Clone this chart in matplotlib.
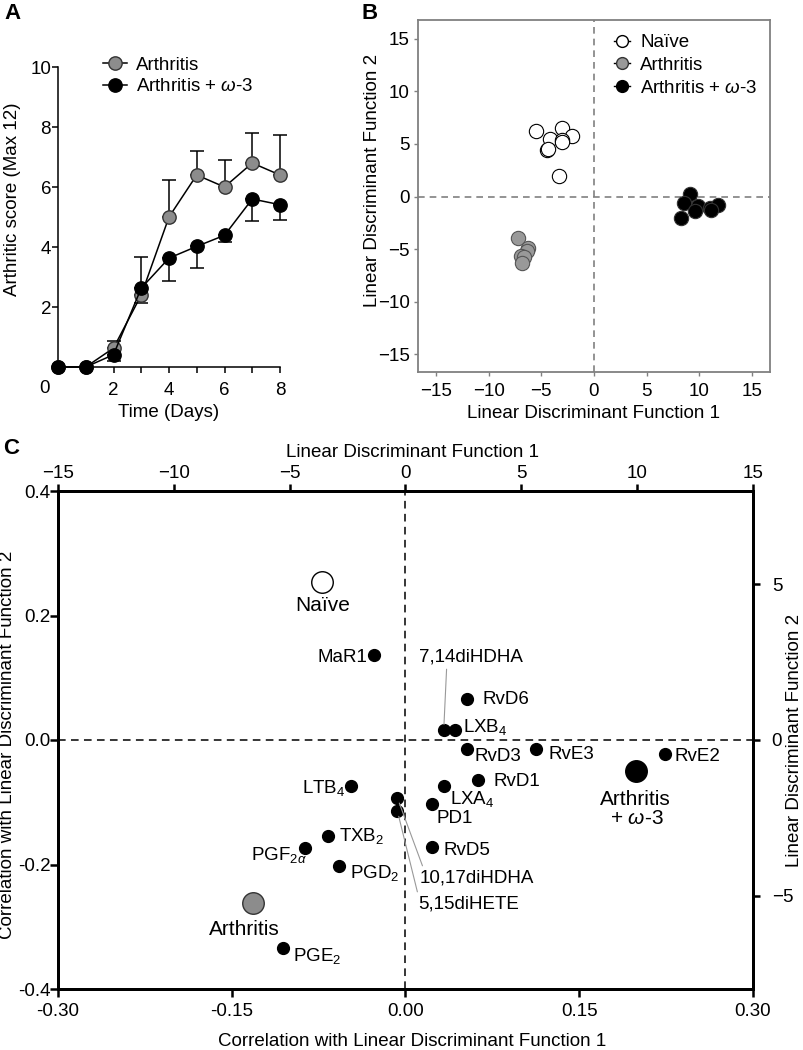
# Arthritis scores + LDA of lipid mediators (panels A, B, C)
import numpy as np
import matplotlib.pyplot as plt
from matplotlib.lines import Line2D

plt.rcParams['font.family'] = ['Liberation Sans', 'DejaVu Sans']
plt.rcParams['mathtext.fontset'] = 'custom'
plt.rcParams['mathtext.rm'] = 'Liberation Sans'
plt.rcParams['mathtext.it'] = 'Liberation Sans:italic'
plt.rcParams['font.size'] = 13.5

# --- A: arthritic score over time ---
days = [0, 1, 2, 3, 4, 5, 6, 7, 8]
arth_mean = [0, 0, 0.63, 2.4, 5.0, 6.4, 6.0, 6.8, 6.4]
arth_sem = [0, 0, 0.23, 1.28, 1.24, 0.8, 0.89, 1.0, 1.32]
omega_mean = [0, 0, 0.41, 2.63, 3.63, 4.02, 4.39, 5.6, 5.41]
omega_sem = [0, 0, 0.22, 0.5, 0.77, 0.72, 0.23, 0.72, 0.52]

# --- B: LDA scores per animal ---
naive_ld1 = [-5.5, -3.0, -2.05, -4.15, -3.0, -3.0, -4.45, -4.35, -3.35]
naive_ld2 = [6.2, 6.5, 5.8, 5.5, 5.4, 5.15, 4.4, 4.5, 2.0]
arth_ld1 = [-7.2, -6.3, -6.4, -6.9, -6.6, -6.8]
arth_ld2 = [-3.9, -4.9, -5.2, -5.7, -5.8, -6.3]
omega_ld1 = [9.1, 8.55, 9.9, 8.3, 9.6, 11.0, 11.8, 11.1]
omega_ld2 = [0.25, -0.6, -0.9, -2.0, -1.4, -1.05, -0.85, -1.3]

# --- C: mediator correlations with LD1 / LD2 ---
mediators = ['MaR1', '7,14diHDHA', 'LXB$_4$', 'RvD6', 'RvD3', 'RvE3', 'RvE2',
             'RvD1', 'LXA$_4$', 'PD1', 'RvD5', '10,17diHDHA', '5,15diHETE',
             'LTB$_4$', 'TXB$_2$', r'PGF$_{2\alpha}$', 'PGD$_2$', 'PGE$_2$']
corr_ld1 = [-0.027, 0.033, 0.043, 0.053, 0.053, 0.113, 0.224, 0.063, 0.033,
            0.023, 0.023, -0.007, -0.007, -0.047, -0.067, -0.087, -0.057, -0.106]
corr_ld2 = [0.137, 0.016, 0.016, 0.066, -0.015, -0.015, -0.022, -0.064, -0.074,
            -0.103, -0.172, -0.093, -0.114, -0.074, -0.154, -0.173, -0.202, -0.334]
groups = ['Naïve', 'Arthritis', 'Arthritis']
group_x = [-0.072, -0.132, 0.199]
group_y = [0.254, -0.262, -0.050]

# label offsets (pixels from dot, to text baseline), alignment, leader line
lab_dx = [-7, -25, 8, 16, 8, 12, 10, 15, 6, 4, 11, 22, 21, -6, 11, 2, 11, 10]
lab_dy = [-7, 69, -2, -5, -12, -10, -7, -6, -18, -19, -8, -85, -98, -7, -5, -12, -12, -13]
lab_ha = ['right', 'left', 'left', 'left', 'left', 'left', 'left', 'left', 'left',
          'left', 'left', 'left', 'left', 'right', 'left', 'right', 'left', 'left']
lab_lead = {1: (0.27, 0), 11: (0.04, 1), 12: (0.0, 1)}

W, H = 804, 1050
DPI = 100
fig = plt.figure(figsize=(W / DPI, H / DPI), dpi=DPI)


def rect(l, t, r, b):
    return [l / W, 1 - b / H, (r - l) / W, (b - t) / H]


pt = 72 / DPI  # pixels -> points
grey = '#8c8c8c'

# ================= A =================
axA = fig.add_axes(rect(58, 67, 280, 367))
zeros = [0] * len(days)
axA.errorbar(days, arth_mean, yerr=[zeros, arth_sem], fmt='none', ecolor='k',
             elinewidth=1.1, capsize=4.7, capthick=1.1, zorder=2, clip_on=False)
axA.errorbar(days, omega_mean, yerr=[omega_sem, zeros], fmt='none', ecolor='k',
             elinewidth=1.1, capsize=4.7, capthick=1.1, zorder=2, clip_on=False)
axA.plot(days, arth_mean, '-o', color='k', mfc=grey, mec='#333333', ms=9.6,
         lw=1.1, mew=1, clip_on=False, zorder=3)
axA.plot(days, omega_mean, '-o', color='k', mfc='k', mec='k', ms=9.6,
         lw=1.1, clip_on=False, zorder=4)
axA.set_xlim(0, 8)
axA.set_ylim(0, 10)
for s in ['top', 'right']:
    axA.spines[s].set_visible(False)
for s in ['left', 'bottom']:
    axA.spines[s].set_linewidth(1.1)
axA.set_xticks([2, 4, 6, 8])
axA.set_xticks([1, 3, 5, 7], minor=True)
axA.set_yticks([2, 4, 6, 8, 10])
axA.tick_params(which='both', direction='out', length=4, width=1.1)
axA.tick_params(axis='x', pad=7)
axA.tick_params(axis='y', pad=1)
axA.text(-0.059, -0.072, '0', transform=axA.transAxes, ha='center', va='center')
axA.set_xlabel('Time (Days)')
axA.xaxis.set_label_coords(0.5, -0.152)
axA.xaxis.label.set_va('center')
axA.set_ylabel('Arthritic score (Max 12)')
axA.yaxis.set_label_coords(-0.207, 0.56)
axA.yaxis.label.set_va('center')
hA = [Line2D([], [], color='k', marker='o', mfc=grey, mec='#333333', ms=9.6, lw=1.1),
      Line2D([], [], color='k', marker='o', mfc='k', mec='k', ms=9.6, lw=1.1)]
axA.legend(hA, ['Arthritis', r'Arthritis + $\omega$-3'], loc='upper left',
           bbox_to_anchor=(0.203, 1.035), frameon=False, handlelength=1.3,
           handletextpad=0.45, labelspacing=0.25, borderaxespad=0, borderpad=0)

# ================= B =================
axB = fig.add_axes(rect(418, 20, 770, 372))
bcol = '#808080'
axB.axhline(0, color=bcol, ls=(0, (4, 3)), lw=1.2, zorder=1)
axB.axvline(0, color=bcol, ls=(0, (4, 3)), lw=1.2, zorder=1)
axB.plot(naive_ld1, naive_ld2, 'o', mfc='white', mec='k', mew=0.8, ms=10.3, zorder=3)
axB.plot(arth_ld1, arth_ld2, 'o', mfc='#999999', mec='#555555', mew=0.8, ms=10.3, zorder=3)
axB.plot(omega_ld1, omega_ld2, 'o', mfc='k', mec='#333333', mew=0.8, ms=10.3, zorder=3)
axB.set_xlim(-16.7, 16.7)
axB.set_ylim(-16.7, 16.8)
ticksB = [-15, -10, -5, 0, 5, 10, 15]
axB.set_xticks(ticksB)
axB.set_yticks(ticksB)
for s in axB.spines.values():
    s.set_color(bcol)
    s.set_linewidth(1.3)
axB.tick_params(direction='out', length=3, width=1, color=bcol, pad=3)
axB.tick_params(axis='x', pad=5)
axB.set_xlabel('Linear Discriminant Function 1')
axB.xaxis.set_label_coords(0.5, -0.117)
axB.xaxis.label.set_va('center')
axB.set_ylabel('Linear Discriminant Function 2')
axB.yaxis.set_label_coords(-0.128, 0.545)
axB.yaxis.label.set_va('center')
hB = [Line2D([], [], color='k', marker='o', mfc='white', mec='k', ms=8.5, lw=1),
      Line2D([], [], color='k', marker='o', mfc='#999999', mec='#333333', ms=8.5, lw=1),
      Line2D([], [], color='k', marker='o', mfc='k', mec='k', ms=8.5, lw=1)]
axB.legend(hB, ['Naïve', 'Arthritis', r'Arthritis + $\omega$-3'], loc='upper left',
           bbox_to_anchor=(0.557, 0.96), frameon=False, handlelength=0.85,
           handletextpad=0.55, labelspacing=0.3, borderaxespad=0, borderpad=0)

# ================= C =================
axC = fig.add_axes(rect(58, 491, 753, 989))
axC.axhline(0, color='k', ls=(0, (5, 3.5)), lw=1.1, zorder=1)
axC.axvline(0, color='k', ls=(0, (5, 3.5)), lw=1.1, zorder=1)
axC.plot(corr_ld1, corr_ld2, 'o', color='k', ms=8.5, zorder=3)
for i, name in enumerate(mediators):
    kw = {}
    if i in lab_lead:
        kw['arrowprops'] = dict(arrowstyle='-', color='#999999', lw=0.8,
                                relpos=lab_lead[i], shrinkA=1, shrinkB=4)
    axC.annotate(name, (corr_ld1[i], corr_ld2[i]),
                 xytext=(lab_dx[i] * pt, lab_dy[i] * pt), textcoords='offset points',
                 ha=lab_ha[i], va='baseline', fontsize=13.5, **kw)

gfill = ['white', '#8c8c8c', 'k']
gedge = ['k', '#333333', 'k']
for gx, gy, fc, ec in zip(group_x, group_y, gfill, gedge):
    axC.plot(gx, gy, 'o', mfc=fc, mec=ec, mew=1, ms=15.5, zorder=3)
axC.annotate(groups[0], (group_x[0], group_y[0]), xytext=(1 * pt, -29 * pt),
             textcoords='offset points', ha='center', va='baseline', fontsize=15)
axC.annotate(groups[1], (group_x[1], group_y[1]), xytext=(-8 * pt, -32 * pt),
             textcoords='offset points', ha='center', va='baseline', fontsize=15)
axC.annotate(groups[2], (group_x[2], group_y[2]), xytext=(-1 * pt, -34 * pt),
             textcoords='offset points', ha='center', va='baseline', fontsize=15)
axC.annotate(r'+ $\omega$-3', (group_x[2], group_y[2]), xytext=(1 * pt, -53 * pt),
             textcoords='offset points', ha='center', va='baseline', fontsize=15)

axC.set_xlim(-0.30, 0.30)
axC.set_ylim(-0.4, 0.4)
axC.set_xticks([-0.30, -0.15, 0.0, 0.15, 0.30])
axC.set_xticklabels(['-0.30', '-0.15', '0.00', '0.15', '0.30'])
axC.set_yticks([-0.4, -0.2, 0.0, 0.2, 0.4])
axC.set_yticklabels(['-0.4', '-0.2', '0.0', '0.2', '0.4'])
axC.tick_params(direction='out', length=5.5, width=1.8)
axC.tick_params(axis='x', pad=4.5)
axC.tick_params(axis='y', pad=0)
for s in axC.spines.values():
    s.set_linewidth(2)
axC.set_xlabel('Correlation with Linear Discriminant Function 1')
axC.xaxis.set_label_coords(0.51, -0.106)
axC.xaxis.label.set_va('center')
axC.set_ylabel('Correlation with Linear Discriminant Function 2')
axC.yaxis.set_label_coords(-0.073, 0.49)
axC.yaxis.label.set_va('center')

axT = axC.twiny()
axT.set_xlim(-15, 15)
axT.set_xticks([-15, -10, -5, 0, 5, 10, 15])
axT.tick_params(direction='out', length=5, width=1.8, pad=1.5)
axT.set_xlabel('Linear Discriminant Function 1')
axT.xaxis.set_label_coords(0.51, 1.078)
axT.xaxis.label.set_va('center')

axR = axC.twinx()
axR.set_ylim(-8, 8)
axR.set_yticks([-5, 0, 5])
axR.tick_params(direction='out', length=5, width=1.8, pad=8.5)
axR.set_ylabel('Linear Discriminant Function 2')
axR.yaxis.set_label_coords(1.06, 0.5)
axR.yaxis.label.set_va('center')
for a in (axT, axR):
    for s in a.spines.values():
        s.set_linewidth(2)

# panel letters
fig.text(4 / W, 1 - 3 / H, 'A', fontsize=16, fontweight='bold', va='top')
fig.text(362 / W, 1 - 3 / H, 'B', fontsize=16, fontweight='bold', va='top')
fig.text(3 / W, 1 - 438 / H, 'C', fontsize=16, fontweight='bold', va='top')

fig.savefig('out.png', dpi=DPI)
